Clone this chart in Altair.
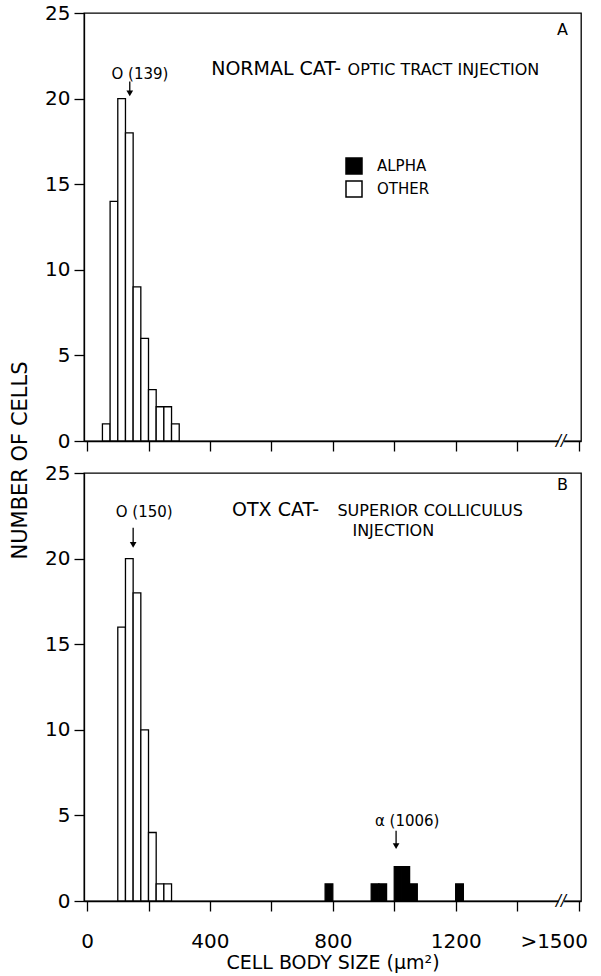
import altair as alt
import pandas as pd

FONT = "DejaVu Sans"
BIN_W = 25

# Panel A: normal cat, optic tract injection (all "other" cells)
a_other_start = [50, 75, 100, 125, 150, 175, 200, 225, 250, 275]
a_other_count = [1, 14, 20, 18, 9, 6, 3, 2, 2, 1]

# Panel B: OTX cat, superior colliculus injection
b_other_start = [100, 125, 150, 175, 200, 225, 250]
b_other_count = [16, 20, 18, 10, 4, 1, 1]
b_alpha_start = [775, 925, 950, 1000, 1025, 1050, 1200]
b_alpha_count = [1, 1, 1, 2, 2, 1, 1]

a_other_mean = 139
b_other_mean = 150
b_alpha_mean = 1006

x_ticks = [0, 200, 400, 600, 800, 1000, 1200, 1400, 1600]
y_ticks = [0, 5, 10, 15, 20, 25]
X_DOMAIN = [-10, 1608]
Y_DOMAIN = [0, 25]

W, H = 497, 428


def bars_df(starts, counts, kind):
    return pd.DataFrame({
        "start": starts,
        "end": [s + BIN_W for s in starts],
        "count": counts,
        "type": kind,
    })


xs = alt.Scale(domain=X_DOMAIN, nice=False, zero=False)
ys = alt.Scale(domain=Y_DOMAIN, nice=False)

LABEL_EXPR = "datum.value == 1600 ? '>1500' : (datum.value % 400 == 0 ? '' + datum.value : '')"


def panel(bar_data, show_labels, y_title, legend, texts, arrows, letter):
    if show_labels:
        x_axis = alt.Axis(
            values=x_ticks, tickSize=10, grid=False, title="CELL BODY SIZE (μm²)",
            titleFontSize=19, titleFontWeight="normal", titleY=67,
            titleBaseline="alphabetic",
            labels=True, labelFontSize=20, labelPadding=20, labelExpr=LABEL_EXPR,
            labelAlign=alt.condition("datum.value == 1600", alt.value("right"), alt.value("center")),
            labelOffset=alt.condition("datum.value == 1600", alt.value(9), alt.value(0)),
        )
    else:
        x_axis = alt.Axis(values=x_ticks, tickSize=10, grid=False, title=None, labels=False)
    if y_title:
        y_axis = alt.Axis(values=y_ticks, tickSize=10, grid=False, labelFontSize=20,
                          labelPadding=4, title="NUMBER OF CELLS", titleFontSize=21,
                          titleFontWeight="normal", titleX=-64, titleY=447,
                          titleAngle=270, titleAlign="center", titleBaseline="middle")
    else:
        y_axis = alt.Axis(values=y_ticks, tickSize=10, grid=False, labelFontSize=20,
                          labelPadding=4, title=None)

    def X(f):
        return alt.X(f, scale=xs, axis=x_axis)

    def Y(f):
        return alt.Y(f, scale=ys, axis=y_axis)

    fill = alt.Fill("type:N",
                    scale=alt.Scale(domain=["ALPHA", "OTHER"], range=["black", "white"]),
                    legend=legend)
    bars = alt.Chart(bar_data).mark_bar(stroke="black", strokeWidth=1.3).encode(
        x=X("start:Q"), x2="end:Q",
        y=Y("count:Q"), y2=alt.datum(0),
        fill=fill,
    )
    layers = [bars]

    # axis break "//"
    brk = pd.DataFrame({"x": [1535], "x2": [1553], "y": [-0.3], "y2": [0.3], "t": ["//"], "xc": [1543]})
    layers.append(alt.Chart(brk).mark_rect(fill="white").encode(
        x=X("x:Q"), x2="x2:Q", y=Y("y:Q"), y2="y2:Q"))
    layers.append(alt.Chart(brk).mark_text(font=FONT, fontSize=15, baseline="middle",
                                           align="center", fontStyle="italic").encode(
        x=X("xc:Q"), y=alt.datum(0), text="t:N"))

    for (tx, ty, txt, size, align) in texts:
        d = pd.DataFrame({"x": [tx], "y": [ty], "t": [txt]})
        layers.append(alt.Chart(d).mark_text(font=FONT, fontSize=size, align=align,
                                             baseline="alphabetic", color="black").encode(
            x=X("x:Q"), y=Y("y:Q"), text="t:N"))

    for (ax, y0, y1) in arrows:
        d = pd.DataFrame({"x": [ax], "y0": [y0], "y1": [y1]})
        layers.append(alt.Chart(d).mark_rule(color="black", strokeWidth=1.3).encode(
            x=X("x:Q"), y=Y("y0:Q"), y2="y1:Q"))
        layers.append(alt.Chart(d).mark_point(shape="triangle-down", filled=True,
                                              color="black", size=45, opacity=1).encode(
            x=X("x:Q"), y=Y("y1:Q")))

    d = pd.DataFrame({"x": [1530], "y": [letter[1]], "t": [letter[0]]})
    layers.append(alt.Chart(d).mark_text(font=FONT, fontSize=16, align="left",
                                         baseline="alphabetic").encode(
        x=X("x:Q"), y=Y("y:Q"), text="t:N"))

    return alt.layer(*layers).properties(width=W, height=H)


legend_a = alt.Legend(orient="none", legendX=261, legendY=144, title=None,
                      symbolType="square", symbolSize=256, symbolStrokeColor="black",
                      symbolStrokeWidth=1.5, labelFontSize=15, labelFont=FONT,
                      rowPadding=1, labelOffset=14)

panel_a = panel(
    bars_df(a_other_start, a_other_count, "OTHER"),
    show_labels=False, y_title=True, legend=legend_a,
    texts=[
        (404, 21.35, "NORMAL CAT-", 19, "left"),
        (848, 21.35, "OPTIC TRACT INJECTION", 16, "left"),
        (172, 21.15, "O (139)", 15, "center"),
    ],
    arrows=[(a_other_mean, 21.0, 20.3)],
    letter=("A", 23.7),
)

panel_b = panel(
    pd.concat([bars_df(b_other_start, b_other_count, "OTHER"),
               bars_df(b_alpha_start, b_alpha_count, "ALPHA")]),
    show_labels=True, y_title=False, legend=None,
    texts=[
        (472, 22.5, "OTX CAT-", 19, "left"),
        (815, 22.5, "SUPERIOR COLLICULUS", 16, "left"),
        (1130, 21.3, "INJECTION", 16, "right"),
        (186, 22.45, "O (150)", 15, "center"),
        (1042, 4.4, "α (1006)", 15, "center"),
    ],
    arrows=[(b_other_mean, 21.8, 20.8), (b_alpha_mean, 4.1, 3.2)],
    letter=("B", 24.0),
)

chart = alt.vconcat(panel_a, panel_b, spacing=32, bounds="flush").resolve_scale(
    fill="independent"
).properties(
    padding={"left": 8, "top": 2, "right": 5, "bottom": 0},
).configure(font=FONT).configure_view(
    stroke="black", strokeWidth=1.3
).configure_axis(
    domainColor="black", tickColor="black", labelColor="black", titleColor="black",
    domainWidth=1.3, tickWidth=1.3, labelFont=FONT, titleFont=FONT,
)

chart.save("out.html", embed_options={"renderer": "svg", "actions": False})
